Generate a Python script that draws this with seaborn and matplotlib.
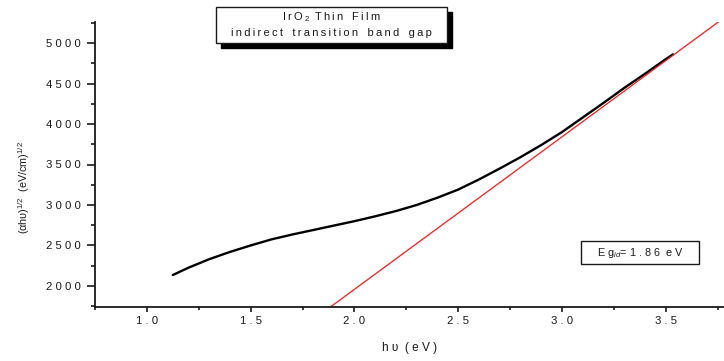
import matplotlib
matplotlib.use("Agg")
import numpy as np
import pandas as pd
import seaborn as sns
import matplotlib.pyplot as plt
from matplotlib.patches import Rectangle
from matplotlib.ticker import MultipleLocator, FuncFormatter

# Photon energy (eV) and (alpha*h*nu)^(1/2) for the IrO2 film
photon_energy = [1.125, 1.20, 1.30, 1.40, 1.50, 1.60, 1.70, 1.80, 1.90, 2.00,
                 2.10, 2.20, 2.30, 2.40, 2.50, 2.60, 2.70, 2.80, 2.90, 3.00,
                 3.10, 3.20, 3.30, 3.40, 3.50, 3.535]
absorption_sqrt = [2135, 2225, 2330, 2420, 2500, 2575, 2635, 2690, 2745, 2800,
                   2860, 2925, 3000, 3090, 3190, 3315, 3450, 3590, 3740, 3900,
                   4080, 4260, 4445, 4620, 4800, 4860]

# Linear extrapolation of the high-energy region
fit_slope = 1883.0
fit_intercept = -1808.0
eg_indirect = 1.86

x_ticks = [1.0, 1.5, 2.0, 2.5, 3.0, 3.5]
y_ticks = [2000, 2500, 3000, 3500, 4000, 4500, 5000]

sns.set_theme(style="ticks")
plt.rcParams["font.family"] = ["Liberation Sans", "DejaVu Sans"]
plt.rcParams["mathtext.fontset"] = "custom"
plt.rcParams["mathtext.rm"] = "Liberation Sans"
plt.rcParams["mathtext.it"] = "Liberation Sans:italic"
plt.rcParams["mathtext.bf"] = "Liberation Sans:bold"

INK = "#1a1a1a"
W, H = 724, 361


def spaced(text, sep="\u2009"):
    """Spread the letters of each word apart."""
    return "   ".join(sep.join(word) for word in text.split(" "))


fig = plt.figure(figsize=(W / 100, H / 100), dpi=100)
ax = fig.add_axes([95 / W, 1 - 307 / H, 629 / W, 285 / H])

ax.set_xlim(0.75, 3.781)
ax.set_ylim(1740, 5260)

curve = pd.DataFrame({"energy": photon_energy, "value": absorption_sqrt})
sns.lineplot(data=curve, x="energy", y="value", ax=ax, color="black",
             linewidth=1.7, sort=False, estimator=None)

fit_x = np.array(ax.get_xlim())
fit_y = fit_slope * fit_x + fit_intercept
sns.lineplot(x=fit_x, y=fit_y, ax=ax, color="#ff1a1a", linewidth=0.9,
             sort=False, estimator=None)

ax.set_xlim(0.75, 3.781)
ax.set_ylim(1740, 5260)

for side in ("top", "right"):
    ax.spines[side].set_visible(False)
for side in ("left", "bottom"):
    ax.spines[side].set_linewidth(1.3)
    ax.spines[side].set_color(INK)

ax.set_xticks(x_ticks)
ax.set_yticks(y_ticks)
ax.xaxis.set_minor_locator(MultipleLocator(0.25))
ax.yaxis.set_minor_locator(MultipleLocator(250))
ax.xaxis.set_major_formatter(FuncFormatter(lambda v, p: " ".join(f"{v:.1f}")))
ax.yaxis.set_major_formatter(FuncFormatter(lambda v, p: " ".join(f"{int(round(v))}")))

ax.tick_params(axis="x", which="major", direction="out", length=3.6, width=1.2,
               pad=3.2, labelsize=8.2, colors=INK)
ax.tick_params(axis="x", which="minor", direction="out", length=2.2, width=1.2,
               colors=INK)
ax.tick_params(axis="y", which="major", direction="out", length=6.0, width=1.2,
               pad=4.0, labelsize=8.2, colors=INK)
ax.tick_params(axis="y", which="minor", direction="out", length=3.0, width=1.2,
               colors=INK)

ax.set_xlabel("h \u03c5  ( e V )", fontsize=8.6, color=INK)
ax.xaxis.set_label_coords(0.5, -0.122)
ax.set_ylabel("(\u03b1h\u03c5)$^{1/2}$  (eV/cm)$^{1/2}$", fontsize=7.8, color=INK)
ax.yaxis.set_label_coords(-0.100, 0.42)


def boxed_note(x0, y0, x1, y1, shadow=0):
    """Draw an outlined white box given in pixel coordinates (top-left origin)."""
    if shadow:
        fig.patches.append(Rectangle(((x0 + shadow) / W, 1 - (y1 + shadow) / H),
                                     (x1 - x0) / W, (y1 - y0) / H,
                                     transform=fig.transFigure, facecolor="black",
                                     edgecolor="black", zorder=5))
    fig.patches.append(Rectangle((x0 / W, 1 - y1 / H), (x1 - x0) / W, (y1 - y0) / H,
                                 transform=fig.transFigure, facecolor="white",
                                 edgecolor=INK, linewidth=1.0, zorder=6))


# Title panel
boxed_note(216, 7, 447, 43, shadow=5)
fig.text(331 / W, 1 - 17 / H,
         spaced("IrO") + "\u2009$_2$\u2009 " + spaced("Thin Film"),
         ha="center", va="center", fontsize=8.0, color=INK, zorder=7)
fig.text(331 / W, 1 - 33 / H, spaced("indirect transition band gap"),
         ha="center", va="center", fontsize=8.0, color=INK, zorder=7)

# Band gap annotation
boxed_note(581, 241, 699, 264)
fig.text(640 / W, 1 - 252.5 / H,
         "E g$_{id}$= " + " ".join(f"{eg_indirect:.2f}") + "  e V",
         ha="center", va="center", fontsize=7.8, color=INK, zorder=7)

fig.savefig("out.png", dpi=100)
